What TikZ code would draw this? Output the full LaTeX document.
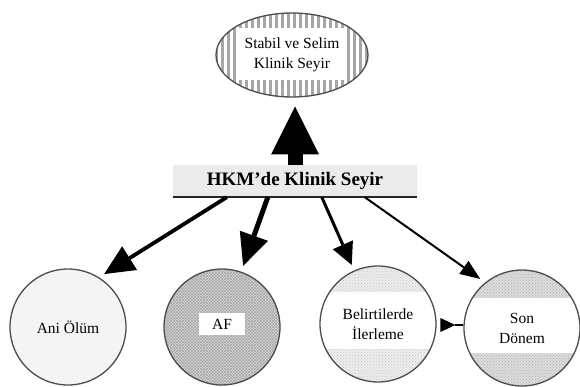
\documentclass[tikz,border=0pt]{standalone}
\usepackage{fontspec}
\setmainfont{Liberation Serif}
\usetikzlibrary{arrows.meta,patterns,patterns.meta,shapes.geometric,calc}
\begin{document}
\begin{tikzpicture}[x=1pt,y=-1pt,
  lbl/.style={font=\fontsize{15.5}{20}\selectfont, align=center, text=black},
  rim/.style={draw=black!70, line width=1.3pt},
  circ/.style={rim, circle, minimum size=116pt, inner sep=0pt, lbl},
  band/.style={path picture={\fill[white] ([yshift=#1]path picture bounding box.west) rectangle ([yshift=-25pt]path picture bounding box.east);}},
  conn/.style={draw=black, line cap=butt}
]
\useasboundingbox (0,0) rectangle (580,387);

% top ellipse
\node[rim, ellipse, minimum width=152pt, minimum height=84pt, inner sep=0pt,
      preaction={fill=white},
      pattern={Lines[angle=90,distance=6pt,line width=3pt]}, pattern color=gray!70,
      path picture={\fill[white] ($(path picture bounding box.center)+(-54,-27)$) rectangle ($(path picture bounding box.center)+(54,25)$);},
      lbl] (top) at (292,55) {Stabil ve Selim\\Klinik Seyir};

% banner
\node[fill=gray!16, minimum width=244pt, minimum height=32pt, inner sep=0pt,
      font=\bfseries\fontsize{19}{22}\selectfont, text=black] (banner) at (295,181) {HKM'de Klinik Seyir};
\draw[line width=1.8pt, black!85] (banner.south west) -- (banner.south east);

% big upward arrow
\draw[conn, line width=15pt, -{Triangle[length=48pt,width=48pt,line width=0pt]}, shorten >=8pt]
  (banner.north) -- (banner.north |- top.south);

% circles
\node[circ, fill=gray!9] (ani) at (68,327) {Ani Ölüm};
\node[circ, preaction={fill=gray!32}, pattern=crosshatch, pattern color=gray!70,
      path picture={\fill[white] ($(path picture bounding box.center)+(-23,-14)$) rectangle ($(path picture bounding box.center)+(23,8)$);}]
      (af) at (222,327) {};
\node[lbl] at ($(af.center)+(0,-3)$) {AF};
\node[circ, preaction={fill=gray!14}, pattern=crosshatch dots, pattern color=gray!45,
      band=32pt] (bel) at (378,324) {Belirtilerde\\İlerleme};
\node[circ, preaction={fill=gray!28}, pattern=crosshatch dots, pattern color=gray!60,
      band=30pt] (son) at (522,328) {Son\\Dönem};

% banner connector start points
\coordinate (s1) at ($(banner.south west)+(54,0)$);
\coordinate (s2) at ($(banner.south west)+(95,0)$);
\coordinate (s3) at ($(banner.south west)+(149,0)$);
\coordinate (s4) at ($(banner.south west)+(192,0)$);

\draw[conn, line width=3.8pt, -{Triangle[length=30pt,width=28pt,line width=0pt]}, shorten >=6pt] (s1) -- (ani.58);
\draw[conn, line width=5pt, -{Triangle[length=32pt,width=30pt,line width=0pt]}, shorten >=6pt] (s2) -- (af.71);
\draw[conn, line width=3pt, -{Triangle[length=22pt,width=22pt,line width=0pt]}, shorten >=6pt] (s3) -- (bel.114);
\draw[conn, line width=2pt, -{Triangle[length=20pt,width=16pt,line width=0pt]}, shorten >=6pt] (s4) -- (son.129);

% small side arrow
\draw[line width=1.2pt] ($(son.180)+(0,-3)$) -- ++(-8,0) coordinate (sidetip);
\fill (sidetip) -- ++(-15,-7) -- ++(0,14) -- cycle;
\end{tikzpicture}
\end{document}
